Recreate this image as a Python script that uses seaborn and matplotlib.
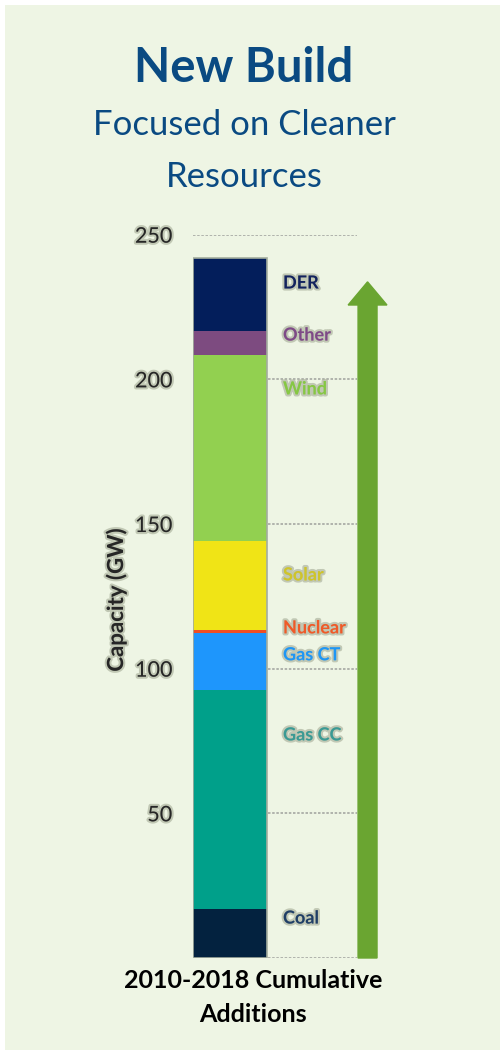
import numpy as np
import pandas as pd
import matplotlib
matplotlib.use("Agg")
import matplotlib.pyplot as plt
import matplotlib.patheffects as pe
from matplotlib.patches import Rectangle, FancyArrow
import seaborn as sns

# ---- data ----
category = ["2010-2018 Cumulative Additions"]
resources = ["Coal", "Gas CC", "Gas CT", "Nuclear", "Solar", "Wind", "Other", "DER"]
capacity_gw = [17.0, 75.7, 19.7, 1.1, 30.8, 64.2, 8.3, 25.3]
ytick_values = [0, 50, 100, 150, 200, 250]
ytick_labels = ["", "50", "100", "150", "200", "250"]

# ---- styling ----
bar_colors = ["#03223F", "#00A08A", "#1E96FC", "#F04E23", "#F0E416", "#92D050", "#7D4B80", "#031E5B"]
label_colors = ["#1F3E66", "#3A9A94", "#1E96F5", "#F05A28", "#CFC52A", "#86C843", "#7E4A87", "#13235E"]
label_y = [13.8, 77.1, 104.8, 114.1, 132.4, 196.7, 215.3, 233.3]
BG = "#EEF5E4"
TITLE = "#0A4A82"
glow = [pe.withStroke(linewidth=3, foreground="#AEB5A0", alpha=0.7)]

sns.set_theme(style="white")
plt.rcParams["font.family"] = ["Lato", "DejaVu Sans"]

fig = plt.figure(figsize=(5, 10.5), dpi=100, facecolor="white")
fig.patches.append(Rectangle((5 / 500, 0), 495 / 500, 1045 / 1050, transform=fig.transFigure,
                             facecolor=BG, edgecolor="none", zorder=-10))
ax = fig.add_axes([193 / 500, 92 / 1050, 164 / 500, 723.3 / 1050])
ax.set_facecolor("none")

cum = np.cumsum(capacity_gw)
df = pd.DataFrame({"period": category * len(resources), "resource": resources, "top": cum})
for i in reversed(range(len(resources))):
    sub = df.iloc[[i]]
    sns.barplot(data=sub, x="period", y="top", color=bar_colors[i], saturation=1,
                width=0.8, errorbar=None, linewidth=0, ax=ax, zorder=3)
sns.barplot(data=df.iloc[[-1]], x="period", y="top", color="#A3AD9E", fill=False,
            width=0.8, errorbar=None, linewidth=1.2, ax=ax, zorder=4)

ax.set_xlim(-0.4, 1.373)
ax.set_ylim(0, 250)
ax.set_yticks(ytick_values, ytick_labels)
ax.set_xticks([])
ax.set_xlabel("")
ax.set_ylabel("")
ax.yaxis.grid(True, color="#A5A8A2", linestyle=(0, (1.5, 1.0)), linewidth=1.2, zorder=0)
ax.set_axisbelow(True)
for s in ax.spines.values():
    s.set_visible(False)
ax.tick_params(axis="y", length=0, pad=15, labelsize=15.5, labelcolor="#262626")
for lbl in ax.get_yticklabels():
    lbl.set_path_effects(glow)

# segment labels
for name, col, yy in zip(resources, label_colors, label_y):
    ax.text(0.573, yy, name, color=col, fontsize=13, fontweight="bold", ha="left", va="center",
            path_effects=glow, zorder=5)

# growth arrow
ax.add_patch(FancyArrow(1.487, 0, 0, 233.7, width=0.205, head_width=0.42, head_length=8.0,
                        length_includes_head=True, color="#6AA531", clip_on=False, zorder=3))

# texts
fig.text(116 / 500, 1 - 600 / 1050, "Capacity (GW)", rotation=90, ha="center", va="center",
         fontsize=16, fontweight="bold", color="#262626", path_effects=glow)
fig.text(244 / 500, 1 - 82 / 1050, "New Build", ha="center", va="baseline", fontsize=34,
         fontweight="bold", color=TITLE)
fig.text(244 / 500, 1 - 135 / 1050, "Focused on Cleaner", ha="center", va="baseline",
         fontsize=25, color=TITLE)
fig.text(244 / 500, 1 - 187 / 1050, "Resources", ha="center", va="baseline",
         fontsize=25, color=TITLE)
fig.text(253 / 500, 1 - 980 / 1050, "2010-2018 Cumulative", ha="center", va="center",
         fontsize=18, fontweight="bold", color="black")
fig.text(253 / 500, 1 - 1014 / 1050, "Additions", ha="center", va="center",
         fontsize=18, fontweight="bold", color="black")

fig.savefig("out.png", dpi=100, facecolor="white")
